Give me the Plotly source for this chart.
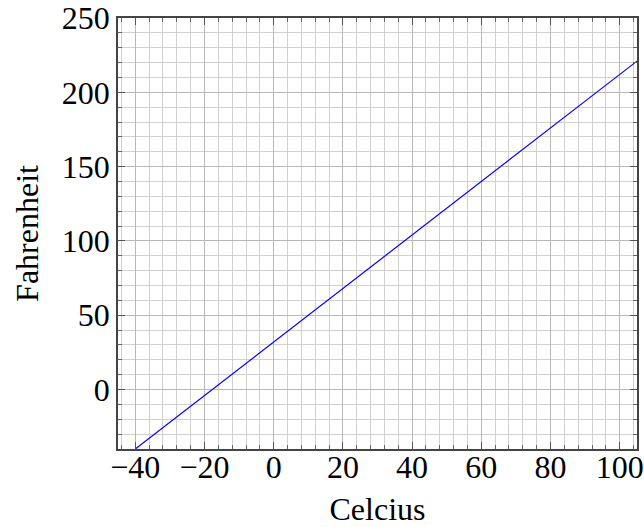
import plotly.graph_objects as go

celsius = [-40, 105]
fahrenheit = [-40, 221]
x_ticks = [-40, -20, 0, 20, 40, 60, 80, 100]
x_tick_labels = ["\u221240", "\u221220", "0", "20", "40", "60", "80", "100"]
y_ticks = [0, 50, 100, 150, 200, 250]
y_tick_labels = ["0", "50", "100", "150", "200", "250"]

FONT = "Liberation Serif"

fig = go.Figure()
fig.add_trace(go.Scatter(x=celsius, y=fahrenheit, mode="lines",
                         line=dict(color="#0000ff", width=1.2), showlegend=False))

axis_common = dict(
    showline=True, linecolor="#444444", linewidth=1.5, mirror="allticks",
    ticks="inside", ticklen=7, tickwidth=1, tickcolor="#555555",
    showgrid=True, gridcolor="#b8b8b8", gridwidth=1,
    zeroline=False, automargin=False, ticklabeloverflow="allow",
    tickfont=dict(family=FONT, size=32, color="black"),
    title_font=dict(family=FONT, size=32, color="black"),
)

fig.update_xaxes(
    range=[-45, 105], tickvals=x_ticks, ticktext=x_tick_labels,
    title_text="Celcius", title_standoff=16, ticklabelstandoff=-11,
    minor=dict(dtick=4, tick0=0, showgrid=True, gridcolor="#d0d0d0", gridwidth=1,
               ticks="inside", ticklen=4, tickcolor="#666666"),
    **axis_common,
)
fig.update_yaxes(
    range=[-40, 250], tickvals=y_ticks, ticktext=y_tick_labels,
    title_text="Fahrenheit", title_standoff=14,
    minor=dict(dtick=10, tick0=0, showgrid=True, gridcolor="#d0d0d0", gridwidth=1,
               ticks="inside", ticklen=4, tickcolor="#666666"),
    **axis_common,
)

fig.update_layout(
    width=644, height=527,
    margin=dict(l=118, r=7, t=18, b=78),
    plot_bgcolor="white", paper_bgcolor="white",
    font=dict(family=FONT, color="black"),
)

fig.write_html("out.html", config={"displayModeBar": False},
               post_script="document.body.style.margin='0';")
